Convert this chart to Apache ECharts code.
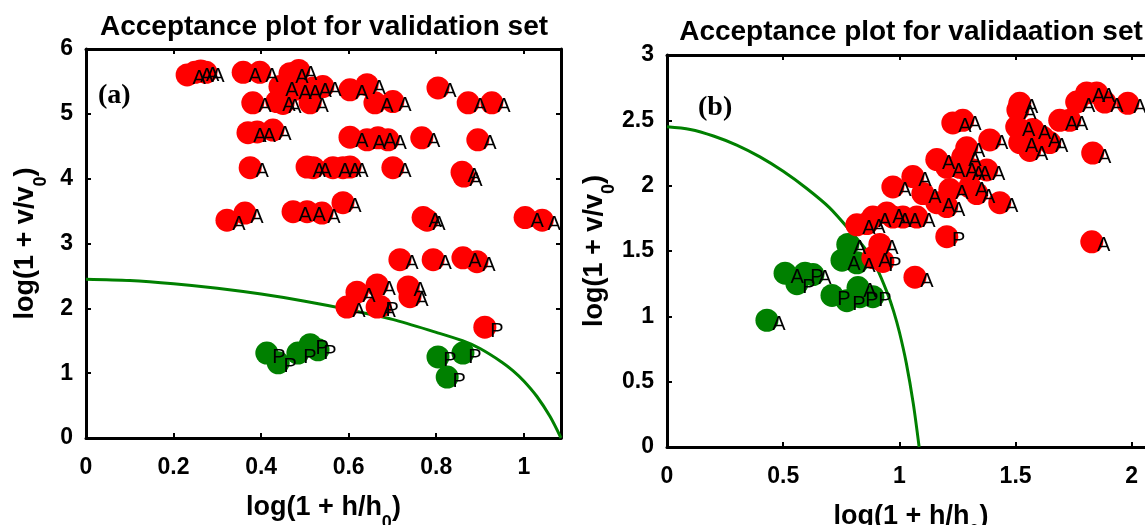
<!DOCTYPE html>
<html><head><meta charset="utf-8">
<script src="https://cdn.jsdelivr.net/npm/echarts@6/dist/echarts.min.js"></script>
<style>html,body{margin:0;padding:0;background:#fff}#c{width:1145px;height:525px}</style>
</head><body><div id="c"></div>
<script>
// ---- texts ----
const titleA = 'Acceptance plot for validation set';
const titleB = 'Acceptance plot for validaation set';
const panelA = '(a)';
const panelB = '(b)';
const xNameA = 'log(1 + h/h{s|0})';
const yNameA = 'log(1 + v/v{s|0})';

// ---- ticks ----
const xTickA = [0, 0.2, 0.4, 0.6, 0.8, 1];
const xTickLabA = ['0', '0.2', '0.4', '0.6', '0.8', '1'];
const yTickA = [0, 1, 2, 3, 4, 5, 6];
const yTickLabA = ['0', '1', '2', '3', '4', '5', '6'];
const xTickB = [0, 0.5, 1, 1.5, 2];
const xTickLabB = ['0', '0.5', '1', '1.5', '2'];
const yTickB = [0, 0.5, 1, 1.5, 2, 2.5, 3];
const yTickLabB = ['0', '0.5', '1', '1.5', '2', '2.5', '3'];
const xMaxA = 1.085, yMaxA = 6, xMaxB = 2.1, yMaxB = 3;

// ---- boundary curve ----
const curveX = [0, 0.1, 0.2, 0.3, 0.4, 0.5, 0.6, 0.7, 0.8, 0.86, 0.9, 0.95, 0.975, 1.0, 1.03, 1.06, 1.085];
const curveY = [2.45, 2.43, 2.38, 2.31, 2.22, 2.11, 1.98, 1.83, 1.63, 1.50, 1.38, 1.17, 1.04, 0.88, 0.64, 0.33, 0];

// ---- panel (a) points [x, y, label] ----
const redA = [
[0.231,5.60,'A'],[0.249,5.64,'A'],[0.262,5.66,'A'],[0.274,5.64,'A'],
[0.359,5.64,'A'],[0.397,5.64,'A'],
[0.466,5.62,'A'],[0.486,5.67,'A'],
[0.443,5.42,'A'],[0.473,5.37,'A'],[0.496,5.37,'A'],[0.519,5.40,'A'],[0.541,5.42,'A'],[0.603,5.37,'A'],[0.642,5.45,'A'],[0.804,5.40,'A'],
[0.381,5.17,'A'],[0.436,5.19,'A'],[0.45,5.16,'A'],[0.512,5.17,'A'],[0.66,5.17,'A'],[0.701,5.19,'A'],[0.873,5.17,'A'],[0.927,5.17,'A'],
[0.37,4.71,'A'],[0.391,4.72,'A'],[0.427,4.75,'A'],[0.603,4.64,'A'],[0.642,4.60,'A'],[0.667,4.63,'A'],[0.69,4.60,'A'],[0.767,4.63,'A'],[0.895,4.60,'A'],
[0.375,4.17,'A'],[0.505,4.18,'A'],[0.519,4.17,'A'],[0.564,4.17,'A'],[0.587,4.17,'A'],[0.603,4.18,'A'],[0.701,4.17,'A'],[0.859,4.10,'A'],[0.863,4.04,'A'],
[0.322,3.36,'A'],[0.363,3.47,'A'],[0.473,3.49,'A'],[0.505,3.49,'A'],[0.539,3.47,'A'],[0.587,3.63,'A'],[0.77,3.40,'A'],[0.779,3.36,'A'],[1.003,3.40,'A'],[1.042,3.36,'A'],
[0.717,2.75,'A'],[0.793,2.75,'A'],[0.861,2.78,'A'],[0.893,2.72,'A'],
[0.619,2.25,'A'],[0.665,2.36,'A'],[0.736,2.33,'A'],[0.74,2.18,'A'],
[0.596,2.02,'A'],[0.665,2.02,'A'],[0.672,2.03,'P'],[0.911,1.71,'P']
];
const greenA = [
[0.413,1.31,'P'],[0.439,1.16,'P'],[0.484,1.31,'P'],[0.512,1.44,'P'],[0.53,1.36,'P'],
[0.804,1.25,'P'],[0.861,1.31,'P'],[0.825,0.94,'P']
];

// ---- panel (b) points [x, y, label] ----
const redB = [
[0.817,1.70,'A'],[0.86,1.71,'A'],[0.886,1.76,'A'],[0.946,1.79,'A'],[0.972,1.76,'A'],[1.015,1.76,'A'],[1.075,1.76,'A'],
[0.972,1.99,'A'],[1.058,2.07,'A'],[1.101,1.94,'A'],[1.161,1.87,'A'],[1.204,1.84,'A'],
[1.161,2.20,'A'],[1.204,2.14,'A'],[1.217,1.97,'A'],[1.26,2.14,'A'],[1.273,2.22,'A'],[1.29,2.29,'A'],[1.29,2.12,'A'],
[1.316,2.12,'A'],[1.303,1.99,'A'],[1.333,1.94,'A'],[1.376,2.12,'A'],[1.389,2.35,'A'],[1.23,2.48,'A'],[1.273,2.50,'A'],
[1.432,1.87,'A'],[1.204,1.61,'P'],
[1.518,2.63,'A'],[1.51,2.58,'A'],[1.505,2.45,'A'],[1.518,2.33,'A'],[1.561,2.27,'A'],[1.574,2.43,'A'],[1.617,2.37,'A'],[1.647,2.33,'A'],
[1.69,2.50,'A'],[1.733,2.50,'A'],[1.763,2.64,'A'],[1.806,2.71,'A'],[1.849,2.71,'A'],[1.884,2.64,'A'],[1.983,2.63,'A'],
[1.832,2.25,'A'],[1.828,1.57,'A'],
[0.916,1.55,'A'],[0.886,1.45,'A'],[0.929,1.42,'P'],[1.067,1.30,'A']
];
const greenB = [
[0.43,0.97,'A'],[0.508,1.33,'A'],[0.559,1.25,'P'],[0.594,1.33,'P'],[0.628,1.32,'A'],
[0.71,1.16,'P'],[0.774,1.12,'P'],[0.822,1.22,'A'],[0.83,1.15,'P'],[0.886,1.15,'P'],
[0.753,1.43,'A'],[0.778,1.55,'A'],[0.817,1.41,'A']
];

// ---- build chart ----
const FONT = 'Liberation Sans';
const RED = '#ff0000', GREEN = '#008000';
function fmt(vals, labs) {
  return v => { const i = vals.findIndex(t => Math.abs(t - v) < 1e-6); return i >= 0 ? labs[i] : ''; };
}
const axisLine = { show: true, onZero: false, lineStyle: { color: '#000', width: 3 } };
const axisTick = { show: true, inside: true, length: 5, lineStyle: { color: '#000', width: 2 } };
const nameTextStyle = {
  fontFamily: FONT, fontWeight: 'bold', fontSize: 27, color: '#000', lineHeight: 48,
  rich: { s: { fontFamily: FONT, fontWeight: 'bold', fontSize: 18, lineHeight: 18, verticalAlign: 'bottom', color: '#000' } }
};
function labelStyle(vals, labs, margin) {
  return { show: true, formatter: fmt(vals, labs), margin: margin, fontFamily: FONT, fontWeight: 'bold', fontSize: 23, color: '#000' };
}
function mainX(grid, max, interval, vals, labs, gap) {
  return { type: 'value', gridIndex: grid, position: 'bottom', min: 0, max: max, interval: interval,
    axisLine: axisLine, axisTick: axisTick, axisLabel: labelStyle(vals, labs, 18), splitLine: { show: false },
    name: xNameA, nameLocation: 'middle', nameGap: gap, nameTextStyle: nameTextStyle };
}
function mainY(grid, max, interval, vals, labs) {
  return { type: 'value', gridIndex: grid, position: 'left', min: 0, max: max, interval: interval,
    axisLine: axisLine, axisTick: axisTick, axisLabel: labelStyle(vals, labs, 13), splitLine: { show: false },
    name: yNameA, nameLocation: 'middle', nameGap: 36, nameRotate: 90, nameTextStyle: nameTextStyle };
}
function mirror(grid, pos, max, interval) {
  return { type: 'value', gridIndex: grid, position: pos, min: 0, max: max, interval: interval,
    axisLine: axisLine, axisTick: axisTick, axisLabel: { show: false }, splitLine: { show: false } };
}
function scatter(data, color, xi, yi) {
  return { type: 'scatter', xAxisIndex: xi, yAxisIndex: yi, z: 3, symbol: 'circle', symbolSize: 23,
    itemStyle: { color: color, opacity: 1 },
    data: data.map(d => ({ value: [d[0], d[1]], name: d[2] })),
    label: { show: true, formatter: '{b}', position: 'inside', offset: [12, 4], fontFamily: FONT, fontSize: 20, color: '#000' } };
}
function curve(xi, yi) {
  return { type: 'line', xAxisIndex: xi, yAxisIndex: yi, z: 1, smooth: 0.3, showSymbol: false, symbol: 'none',
    lineStyle: { color: GREEN, width: 3 }, data: curveX.map((x, i) => [x, curveY[i]]) };
}
function txt(text, x, y, font, align) {
  return { type: 'text', x: x, y: y, z: 10,
    style: { text: text, font: font, fill: '#000', align: align, textAlign: align, verticalAlign: 'middle', textVerticalAlign: 'middle' } };
}

const chart = echarts.init(document.getElementById('c'), null, { renderer: 'canvas', width: 1145, height: 525 });
chart.setOption({
  animation: false,
  backgroundColor: '#fff',
  grid: [
    { left: 86, top: 49, width: 475, height: 389, outerBoundsMode: 'none', containLabel: false },
    { left: 667, top: 55, width: 488, height: 392, outerBoundsMode: 'none', containLabel: false }
  ],
  xAxis: [
    mainX(0, xMaxA, 0.2, xTickA, xTickLabA, 42),
    mirror(0, 'top', xMaxA, 0.2),
    mainX(1, xMaxB, 0.5, xTickB, xTickLabB, 35),
    mirror(1, 'top', xMaxB, 0.5)
  ],
  yAxis: [
    mainY(0, yMaxA, 1, yTickA, yTickLabA),
    mirror(0, 'right', yMaxA, 1),
    mainY(1, yMaxB, 0.5, yTickB, yTickLabB),
    mirror(1, 'right', yMaxB, 0.5)
  ],
  graphic: [
    txt(titleA, 324, 27, 'bold 28px "Liberation Sans"', 'center'),
    txt(titleB, 911, 32, 'bold 28px "Liberation Sans"', 'center'),
    txt(panelA, 98, 96, 'bold 28px "Liberation Serif"', 'left'),
    txt(panelB, 698, 108, 'bold 28px "Liberation Serif"', 'left')
  ],
  series: [
    curve(0, 0), scatter(greenA, GREEN, 0, 0), scatter(redA, RED, 0, 0),
    curve(2, 2), scatter(greenB, GREEN, 2, 2), scatter(redB, RED, 2, 2)
  ]
});
</script></body></html>
